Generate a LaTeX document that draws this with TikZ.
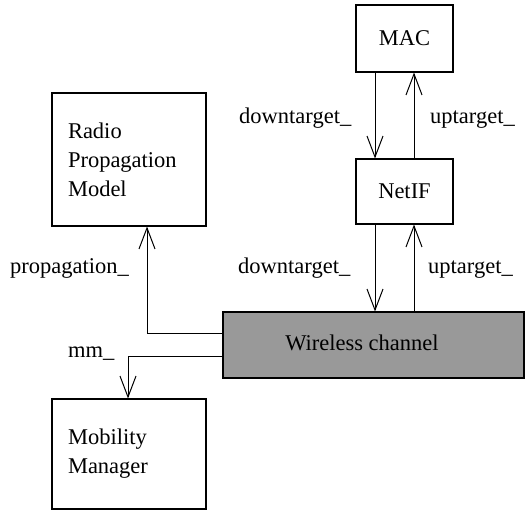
\documentclass[tikz,border=0pt]{standalone}
\usepackage{fontspec}
\setmainfont{Liberation Serif}
\usetikzlibrary{arrows.meta}
\tikzset{
  box/.style={draw, line width=1.1pt, inner sep=0pt, minimum width=#1},
  lbl/.style={anchor=base west, inner sep=0pt},
  arr/.style={line width=1pt, -{Straight Barb[length=21pt, width=16pt, line width=1pt]}},
  wire/.style={line width=1pt}
}
\begin{document}
\begin{tikzpicture}[x=1pt, y=-1pt, font=\fontsize{22.5}{29}\selectfont]
\useasboundingbox (0,0) rectangle (526,510);
% protocol stack on the right
\node[box=97pt, minimum height=67pt] (mac) at (404.5,38.5) {MAC};
\node[box=97pt, minimum height=65pt] (netif) at (404.5,191.5) {NetIF};
\node[box=301pt, minimum height=66pt, fill={rgb,255:red,153;green,153;blue,153}] (wl) at (373.5,345) {};
\node[inner sep=0pt] (wltext) at (362,343) {Wireless channel};
% helper objects on the left
\node[box=154pt, minimum height=133pt, text width=122pt, align=left] (radio) at (129,159.5) {Radio\\Propagation\\Model};
\node[box=154pt, minimum height=110pt, text width=122pt, align=left] (mob) at (129,454) {Mobility\\Manager\\[-4pt]};
% vertical lanes and bends
\coordinate (xd) at (375,0);
\coordinate (xu) at (414,0);
\coordinate (pp) at (147,333);
\coordinate (mp) at (128,356);
% links between the stack layers
\draw[arr] (mac.south -| xd) -- (netif.north -| xd);
\draw[arr] (netif.north -| xu) -- (mac.south -| xu);
\draw[arr] (netif.south -| xd) -- (wl.north -| xd);
\draw[arr] (wl.north -| xu) -- (netif.south -| xu);
% links from the channel
\draw[arr] (wl.west |- pp) -- (pp) -- (radio.south -| pp);
\draw[arr] (wl.west |- mp) -- (mp) -- (mob.north -| mp);
% link labels
\node[lbl] (l1) at (239,124) {downtarget\_};
\node[lbl] (l2) at (430,124) {uptarget\_};
\node[lbl] (l3) at (238,273) {downtarget\_};
\node[lbl] (l4) at (428,273) {uptarget\_};
\node[lbl] (l5) at (10,273) {propagation\_};
\node[lbl] (l6) at (68,357) {mm\_};
\end{tikzpicture}
\end{document}
